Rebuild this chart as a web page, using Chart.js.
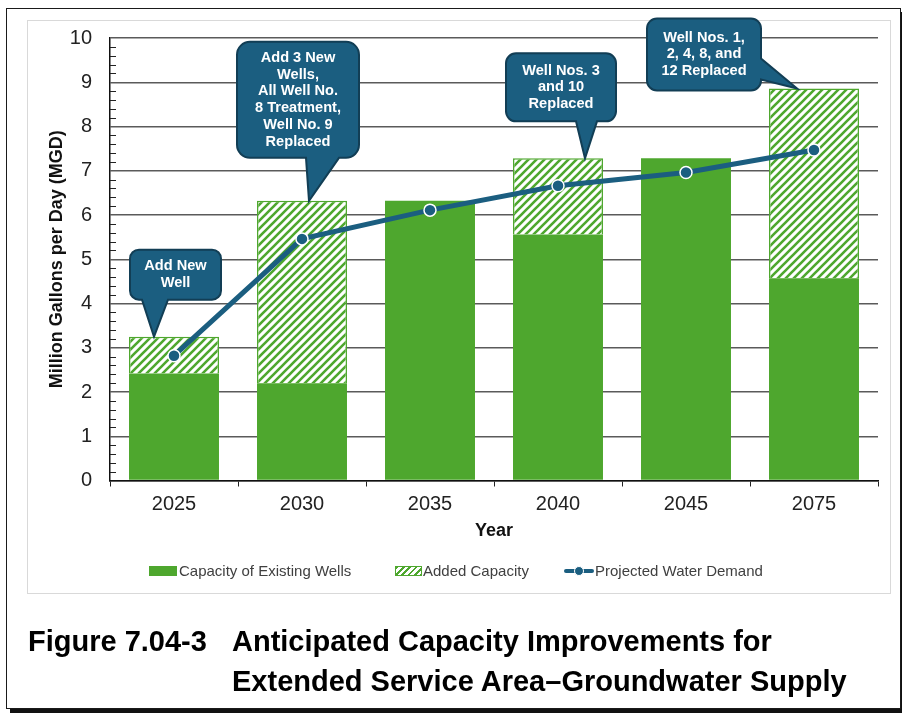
<!DOCTYPE html>
<html>
<head>
<meta charset="utf-8">
<script src="https://cdn.jsdelivr.net/npm/chart.js@4.4.1/dist/chart.umd.min.js"></script>
<style>
  html, body { margin: 0; padding: 0; background: #fff; }
  body { width: 902px; height: 715px; position: relative; overflow: hidden; font-family: "Liberation Sans", Arial, sans-serif; }
  #frame { position: absolute; left: 6px; top: 8px; width: 893px; height: 699px; border: 1px solid #1a1a1a; box-shadow: 4px 4px 0 #111; }
  #panel { position: absolute; left: 27px; top: 20px; width: 862px; height: 572px; border: 1px solid #d9d9d9; }
  #chart { position: absolute; left: 0; top: 0; }
  .lg { position: absolute; top: 562px; height: 18px; font-size: 15px; line-height: 18px; color: #404040; white-space: nowrap; }
  .sw { position: absolute; }
  .cap { position: absolute; font-weight: bold; font-size: 29px; line-height: 40px; color: #000; white-space: nowrap; }
</style>
</head>
<body>
<div id="frame"></div>
<div id="panel"></div>
<canvas id="chart" width="902" height="715"></canvas>

<div class="sw" style="left:149px;top:566px;width:28px;height:10px;background:#4EA72E;"></div>
<div class="lg" style="left:179px;">Capacity of Existing Wells</div>
<div class="sw" style="left:395px;top:566px;width:25px;height:8px;border:1px solid #4EA72E;background:repeating-linear-gradient(135deg,#4EA72E 0 2px,#fff 2px 4.5px);"></div>
<div class="lg" style="left:423px;">Added Capacity</div>
<div class="sw" style="left:564px;top:569px;width:30px;height:4px;border-radius:2px;background:#1B5E80;"></div>
<div class="sw" style="left:574px;top:566px;width:8px;height:8px;border-radius:50%;background:#1B5E80;border:1px solid #fff;"></div>
<div class="lg" style="left:595px;">Projected Water Demand</div>

<div class="cap" style="left:28px;top:621px;">Figure 7.04-3</div>
<div class="cap" style="left:232px;top:621px;">Anticipated Capacity Improvements for<br>Extended Service Area–Groundwater Supply</div>

<script>
// Capacity and demand, million gallons per day
const years = ['2025', '2030', '2035', '2040', '2045', '2075'];
const existingCapacity = [2.42, 2.2, 6.32, 5.56, 7.28, 4.57];
const addedCapacity = [0.83, 4.12, 0, 1.72, 0, 4.29];
const projectedDemand = [2.82, 5.46, 6.11, 6.66, 6.96, 7.47];
const yTickValues = [0, 1, 2, 3, 4, 5, 6, 7, 8, 9, 10];

// Callout notes attached to the top of a year's bar
const noteYears = ['2025', '2030', '2040', '2075'];
const noteLines = [
  ['Add New', 'Well'],
  ['Add 3 New', 'Wells,', 'All Well No.', '8 Treatment,', 'Well No. 9', 'Replaced'],
  ['Well Nos. 3', 'and 10', 'Replaced'],
  ['Well Nos. 1,', '2, 4, 8, and', '12 Replaced']
];
// box placement relative to the pointer tip (pixels)
const noteBoxes = [
  { tipDx: -20, dx: -24, dy: -87, w: 91, h: 50, r: 9, side: 'bottom', b1: -12, b2: 14 },
  { tipDx: 7, dx: -72, dy: -159, w: 122, h: 116, r: 13, side: 'bottom', b1: -3, b2: 30 },
  { tipDx: 27, dx: -79, dy: -105, w: 110, h: 68, r: 10, side: 'bottom', b1: -9, b2: 12 },
  { tipDx: -17, dx: -150, dy: -70, w: 114, h: 72, r: 10, side: 'right', b1: -30, b2: -9 }
];

const GREEN = '#4EA72E';
const BLUE = '#1B5E80';

function hatchPattern(color) {
  const c = document.createElement('canvas');
  c.width = 8; c.height = 8;
  const g = c.getContext('2d');
  g.fillStyle = '#fff';
  g.fillRect(0, 0, 8, 8);
  g.strokeStyle = color;
  g.lineWidth = 2.6;
  g.beginPath();
  g.moveTo(-2, 10); g.lineTo(10, -2);
  g.moveTo(-2, 2); g.lineTo(2, -2);
  g.moveTo(6, 10); g.lineTo(10, 6);
  g.stroke();
  return g.createPattern(c, 'repeat');
}

const ctx = document.getElementById('chart').getContext('2d');
const hatch = hatchPattern(GREEN);

// small minor ticks every 0.2 along the value axis
const minorTicks = {
  id: 'minorTicks',
  beforeDatasetsDraw(chart) {
    const y = chart.scales.y;
    const c = chart.ctx;
    c.save();
    c.strokeStyle = '#222';
    c.lineWidth = 1;
    for (let i = 0; i <= 50; i++) {
      if (i % 5 === 0) continue;
      const py = Math.round(y.getPixelForValue(i / 5)) + 0.5;
      c.beginPath();
      c.moveTo(y.right, py);
      c.lineTo(y.right + 6, py);
      c.stroke();
    }
    c.restore();
  }
};

function notePath(c, b, tx, ty) {
  const x = tx + b.dx, y = ty + b.dy, w = b.w, h = b.h, r = b.r;
  c.beginPath();
  c.moveTo(x + r, y);
  c.lineTo(x + w - r, y);
  c.arcTo(x + w, y, x + w, y + r, r);
  if (b.side === 'right') {
    c.lineTo(x + w, ty + b.b1);
    c.lineTo(tx, ty);
    c.lineTo(x + w, ty + b.b2);
  }
  c.lineTo(x + w, y + h - r);
  c.arcTo(x + w, y + h, x + w - r, y + h, r);
  if (b.side === 'bottom') {
    c.lineTo(tx + b.b2, y + h);
    c.lineTo(tx, ty);
    c.lineTo(tx + b.b1, y + h);
  }
  c.lineTo(x + r, y + h);
  c.arcTo(x, y + h, x, y + h - r, r);
  c.lineTo(x, y + r);
  c.arcTo(x, y, x + r, y, r);
  c.closePath();
}

const callouts = {
  id: 'callouts',
  afterDatasetsDraw(chart) {
    const c = chart.ctx;
    const xs = chart.scales.x, ys = chart.scales.y;
    c.save();
    noteYears.forEach((yr, k) => {
      const i = years.indexOf(yr);
      const b = noteBoxes[k];
      const tx = xs.getPixelForValue(i) + b.tipDx;
      const ty = ys.getPixelForValue(existingCapacity[i] + addedCapacity[i]);
      notePath(c, b, tx, ty);
      c.fillStyle = BLUE;
      c.fill();
      c.lineWidth = 2;
      c.strokeStyle = '#123E55';
      c.stroke();
      const lines = noteLines[k];
      const cx = tx + b.dx + b.w / 2;
      const cy = ty + b.dy + b.h / 2;
      c.fillStyle = '#fff';
      c.font = 'bold 14.6px "Liberation Sans", Arial, sans-serif';
      c.textAlign = 'center';
      c.textBaseline = 'middle';
      lines.forEach((t, j) => {
        c.fillText(t, cx, cy + (j - (lines.length - 1) / 2) * 16.8);
      });
    });
    c.restore();
  }
};

new Chart(ctx, {
  data: {
    labels: years,
    datasets: [
      {
        type: 'line',
        label: 'Projected Water Demand',
        data: projectedDemand,
        stack: 'demand',
        borderColor: BLUE,
        borderWidth: 5,
        tension: 0,
        pointRadius: 6,
        pointBackgroundColor: BLUE,
        pointBorderColor: '#ffffff',
        pointBorderWidth: 1.5,
        order: 0
      },
      {
        type: 'bar',
        label: 'Capacity of Existing Wells',
        data: existingCapacity,
        stack: 'capacity',
        backgroundColor: GREEN,
        borderWidth: 0,
        categoryPercentage: 1,
        barPercentage: 0.703,
        order: 1
      },
      {
        type: 'bar',
        label: 'Added Capacity',
        data: addedCapacity,
        stack: 'capacity',
        backgroundColor: hatch,
        borderColor: GREEN,
        borderWidth: (c) => (c.raw > 0 ? 1.5 : 0),
        categoryPercentage: 1,
        barPercentage: 0.703,
        order: 2
      }
    ]
  },
  options: {
    responsive: false,
    animation: false,
    devicePixelRatio: 1,
    layout: { padding: { left: 30, right: 24, top: 38, bottom: 173.5 } },
    plugins: { legend: { display: false }, tooltip: { enabled: false } },
    scales: {
      x: {
        stacked: true,
        afterFit(s) { s.height = 61; },
        grid: { offset: true, drawOnChartArea: false, drawTicks: true, tickLength: 6, color: '#222', lineWidth: 1 },
        border: { display: true, color: '#111', width: 1.5 },
        ticks: { color: '#222', padding: 6, font: { family: '"Liberation Sans", Arial, sans-serif', size: 20 } },
        title: { display: true, text: 'Year', color: '#111', padding: { top: 0, bottom: 0 },
                 font: { family: '"Liberation Sans", Arial, sans-serif', size: 18, weight: 'bold' } }
      },
      y: {
        stacked: true,
        min: 0,
        max: 10,
        afterFit(s) { s.width = 80; },
        afterBuildTicks(s) { s.ticks = yTickValues.map(v => ({ value: v })); },
        grid: { color: '#5a5a5a', lineWidth: 1.5, drawTicks: false },
        border: { display: true, color: '#111', width: 1.5 },
        ticks: { color: '#222', padding: 18, font: { family: '"Liberation Sans", Arial, sans-serif', size: 20 } },
        title: { display: true, text: 'Million Gallons per Day (MGD)', color: '#111', padding: { top: 16, bottom: 0 },
                 font: { family: '"Liberation Sans", Arial, sans-serif', size: 18, weight: 'bold' } }
      }
    }
  },
  plugins: [minorTicks, callouts]
});
</script>
</body>
</html>
